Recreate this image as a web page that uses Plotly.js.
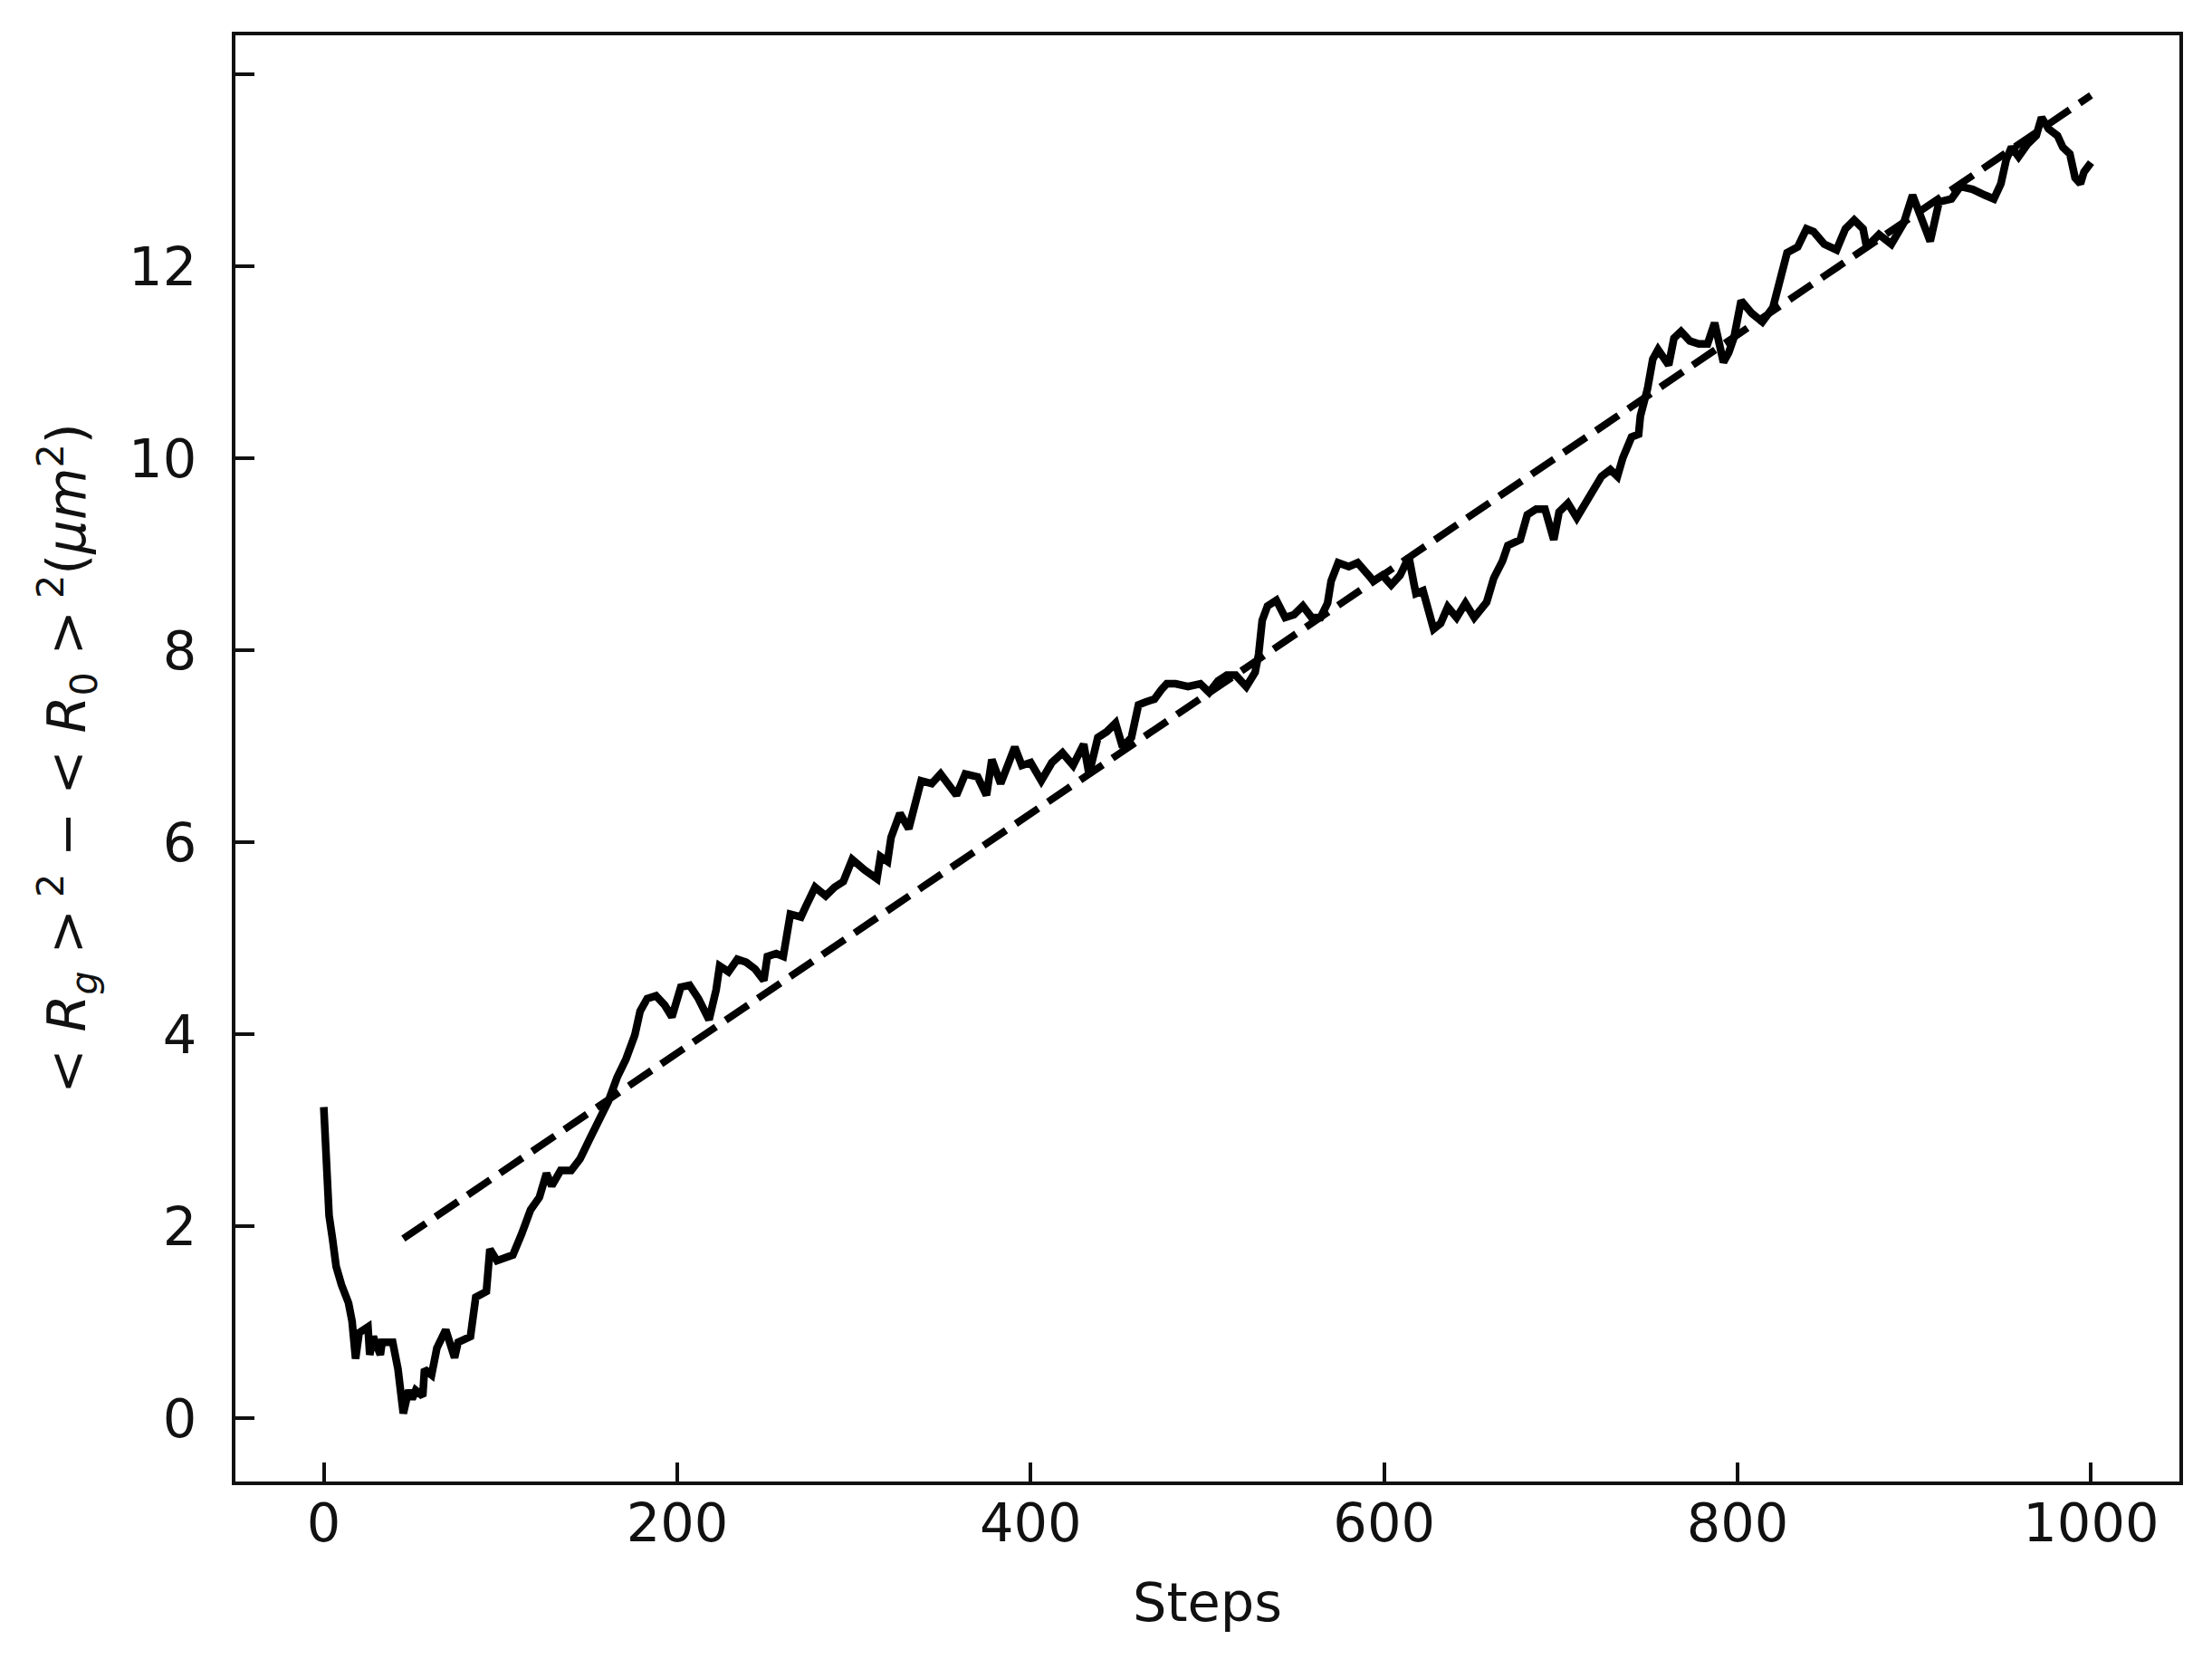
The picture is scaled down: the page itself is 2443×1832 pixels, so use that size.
<!DOCTYPE html>
<html>
<head>
<meta charset="utf-8">
<script src="https://cdn.plot.ly/plotly-3.0.1.min.js"></script>
<style>html,body{margin:0;padding:0;background:#fff;}#chart{width:2443px;height:1832px;}</style>
</head>
<body>
<div id="chart"></div>
<script>
// Measured curve: <Rg>^2 - <R0>^2 vs steps
const steps = [
  0, 1, 2, 3, 5, 7, 10, 14, 16, 18,
  20, 25, 26, 28, 32, 33, 39, 42, 44, 45,
  48, 50, 52, 56, 57, 61, 64, 69, 74, 76,
  83, 85, 86, 92, 94, 98, 107, 112, 117, 122,
  126, 129, 134, 140, 145, 150, 155, 161, 166, 171,
  176, 179, 183, 188, 193, 197, 202, 207, 212, 218,
  222, 224, 229, 234, 239, 244, 249, 251, 256, 260,
  264, 270, 273, 278, 284, 289, 294, 299, 306, 313,
  315, 319, 321, 326, 331, 335, 338, 344, 349, 358,
  363, 370, 375, 378, 383, 387, 391, 395, 400, 406,
  412, 418, 424, 430, 433, 438, 443, 448, 452, 457,
  461, 465, 470, 474, 477, 482, 489, 496, 501, 506,
  511, 516, 522, 527, 529, 531, 534, 539, 544, 549,
  554, 559, 564, 568, 570, 574, 580, 585, 590, 594,
  599, 604, 609, 614, 617, 618, 622, 626, 628, 632,
  636, 641, 646, 651, 658, 662, 667, 670, 677, 681,
  686, 691, 696, 699, 704, 709, 713, 718, 723, 728,
  732, 735, 740, 744, 745, 749, 752, 755, 761, 764,
  768, 773, 778, 783, 787, 792, 795, 798, 802, 808,
  814, 820, 824, 828, 834, 839, 843, 849, 856, 861,
  866, 871, 873, 880, 887, 894, 899, 904, 909, 914,
  921, 926, 933, 940, 945, 949, 952, 955, 959, 964,
  969, 972, 976, 981, 984, 988, 991, 994, 996, 1000
];
const rgDiff = [
  3.24, 2.93, 2.55, 2.11, 1.86, 1.58, 1.39, 1.20, 1.01, 0.62,
  0.89, 0.95, 0.66, 0.85, 0.66, 0.79, 0.79, 0.51, 0.20, 0.05,
  0.29, 0.20, 0.29, 0.23, 0.51, 0.45, 0.73, 0.92, 0.63, 0.79,
  0.85, 1.14, 1.26, 1.32, 1.76, 1.64, 1.70, 1.92, 2.17, 2.30,
  2.55, 2.42, 2.58, 2.58, 2.70, 2.89, 3.08, 3.30, 3.55, 3.74,
  3.99, 4.24, 4.37, 4.40, 4.30, 4.18, 4.49, 4.51, 4.37, 4.15,
  4.46, 4.71, 4.65, 4.78, 4.75, 4.68, 4.56, 4.81, 4.84, 4.81,
  5.25, 5.22, 5.34, 5.53, 5.44, 5.53, 5.59, 5.82, 5.71, 5.62,
  5.85, 5.80, 6.05, 6.30, 6.14, 6.39, 6.64, 6.61, 6.71, 6.49,
  6.71, 6.68, 6.49, 6.86, 6.61, 6.80, 6.99, 6.80, 6.83, 6.64,
  6.83, 6.93, 6.80, 7.02, 6.71, 7.09, 7.15, 7.24, 6.99, 7.09,
  7.43, 7.46, 7.49, 7.59, 7.65, 7.65, 7.62, 7.65, 7.56, 7.68,
  7.74, 7.74, 7.62, 7.77, 7.96, 8.31, 8.46, 8.52, 8.34, 8.37,
  8.46, 8.34, 8.34, 8.49, 8.72, 8.91, 8.87, 8.91, 8.81, 8.72,
  8.78, 8.68, 8.78, 8.97, 8.68, 8.59, 8.62, 8.34, 8.22, 8.28,
  8.45, 8.34, 8.49, 8.34, 8.50, 8.75, 8.93, 9.09, 9.15, 9.41,
  9.47, 9.47, 9.15, 9.44, 9.53, 9.38, 9.50, 9.63, 9.81, 9.88,
  9.81, 10.00, 10.22, 10.25, 10.44, 10.72, 11.03, 11.13, 10.97, 11.25,
  11.32, 11.22, 11.19, 11.19, 11.41, 11.00, 11.10, 11.26, 11.64, 11.51,
  11.42, 11.57, 11.89, 12.14, 12.20, 12.39, 12.36, 12.23, 12.17, 12.39,
  12.48, 12.39, 12.20, 12.33, 12.23, 12.45, 12.74, 12.52, 12.26, 12.67,
  12.70, 12.83, 12.80, 12.74, 12.70, 12.86, 13.11, 13.24, 13.14, 13.27,
  13.36, 13.55, 13.43, 13.36, 13.24, 13.17, 12.92, 12.86, 12.98, 13.08
];
// Linear fit (dashed line) end points
const fitSteps = [45, 1000];
const fitValues = [1.87, 13.78];

// Axis ticks
const xTickVals = [0, 200, 400, 600, 800, 1000];
const xTickText = ['0', '200', '400', '600', '800', '1000'];
const yTickVals = [0, 2, 4, 6, 8, 10, 12, 14];
const yTickText = ['0', '2', '4', '6', '8', '10', '12', ''];

const xTitle = 'Steps';
const yTitle = '&lt; <i>R</i><sub><i>g</i></sub> &gt;<sup> 2</sup> \u2212 &lt; <i>R</i><sub>0</sub> &gt;<sup> 2</sup>(<i>\u03bcm</i><sup>2</sup>)';

const FONT = 'DejaVu Sans';
const FS = 59;
const traces = [
  {
    x: steps, y: rgDiff, type: 'scatter', mode: 'lines',
    line: {color: '#000', width: 8.5},
    showlegend: false, hoverinfo: 'skip'
  },
  {
    x: fitSteps, y: fitValues, type: 'scatter', mode: 'lines',
    line: {color: '#000', width: 8, dash: '30px,13px'},
    showlegend: false, hoverinfo: 'skip'
  }
];

const axisCommon = {
  showgrid: false, zeroline: false,
  showline: true, linecolor: '#111', linewidth: 4, mirror: true,
  ticks: 'inside', ticklen: 21, tickwidth: 4, tickcolor: '#111',
  tickfont: {family: FONT, size: FS, color: '#111'},
  automargin: false
};

const layout = {
  width: 2443, height: 1832,
  paper_bgcolor: '#fff', plot_bgcolor: '#fff',
  margin: {l: 260, r: 36, t: 39, b: 196, pad: 0},
  font: {family: FONT, size: FS, color: '#111'},
  xaxis: Object.assign({}, axisCommon, {
    range: [-50, 1050],
    tickmode: 'array', tickvals: xTickVals, ticktext: xTickText,
    ticklabelstandoff: -9,
    title: {text: xTitle, font: {family: FONT, size: FS, color: '#111'}, standoff: 35}
  }),
  yaxis: Object.assign({}, axisCommon, {
    range: [-0.66, 14.405],
    tickmode: 'array', tickvals: yTickVals, ticktext: yTickText,
    ticklabelstandoff: 27,
    title: {text: yTitle, font: {family: FONT, size: FS, color: '#111'}, standoff: 29}
  })
};

Plotly.newPlot('chart', traces, layout, {staticPlot: true, displayModeBar: false});
</script>
</body>
</html>
